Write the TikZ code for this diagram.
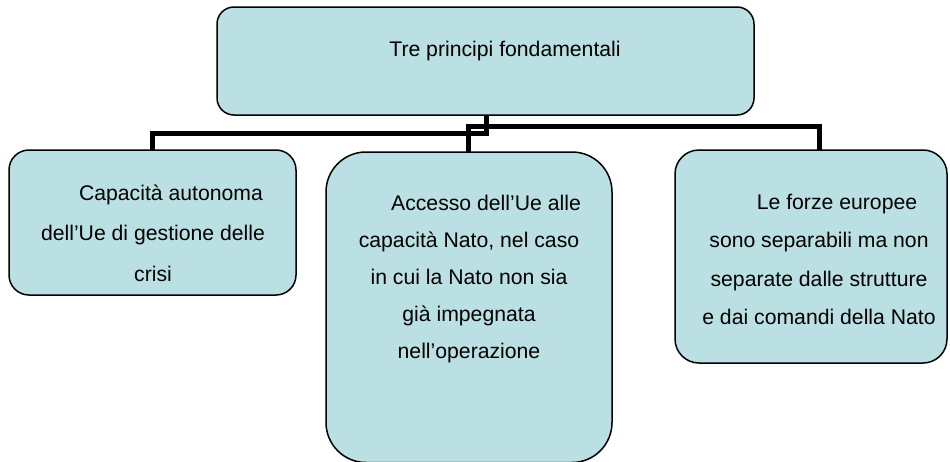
\documentclass[tikz,border=0pt]{standalone}
\usepackage{fontspec}
\setmainfont{Liberation Sans}
\definecolor{boxfill}{RGB}{187,224,227}
\begin{document}
\begin{tikzpicture}[x=1pt,y=-1pt,
  box/.style={draw=black, line width=1.5pt, fill=boxfill, inner sep=0pt, outer sep=0pt},
  conn/.style={line width=5pt, draw=black},
  txt/.style={inner sep=0pt, align=center, anchor=north}]
\useasboundingbox (0,0) rectangle (950,461);
% boxes
\node[box, rounded corners=17pt, minimum width=537pt, minimum height=108pt] (top) at (485.5,61) {};
\node[box, rounded corners=20pt, minimum width=287pt, minimum height=145pt] (left) at (152.5,222.5) {};
\node[box, rounded corners=40pt, minimum width=286pt, minimum height=310.5pt] (mid) at (469,307.25) {};
\node[box, rounded corners=24pt, minimum width=272pt, minimum height=213pt] (right) at (811,256.5) {};
% connectors
\coordinate (jA) at (486,133);
\coordinate (jB) at (468,126);
\coordinate (rs) at (819,126);
\draw[conn] (top.south -| jA) -- (jA) -| (left.north);
\draw[conn] (mid.north -| jB) -- (jB) -- (rs) -- (rs |- right.north);
% texts
\node[inner sep=0pt, anchor=base, font=\fontsize{21.2pt}{25pt}\selectfont] (ttxt) at (505,56) {Tre principi fondamentali};
\node[txt, font=\fontsize{21.2pt}{40.5pt}\selectfont] (ltxt) at (153,183)
  {\rule{0pt}{17pt}\hspace*{36pt}Capacità autonoma\\dell’Ue di gestione delle\\crisi};
\node[txt, font=\fontsize{21.2pt}{37pt}\selectfont] (mtxt) at (469,193)
  {\rule{0pt}{17pt}\hspace*{34pt}Accesso dell’Ue alle\\capacità Nato, nel caso\\in cui la Nato non sia\\già impegnata\\nell’operazione};
\node[txt, font=\fontsize{21.2pt}{38.5pt}\selectfont] (rtxt) at (819,192)
  {\rule{0pt}{17pt}\hspace*{36pt}Le forze europee\\sono separabili ma non\\separate dalle strutture\\e dai comandi della Nato};
\end{tikzpicture}
\end{document}
